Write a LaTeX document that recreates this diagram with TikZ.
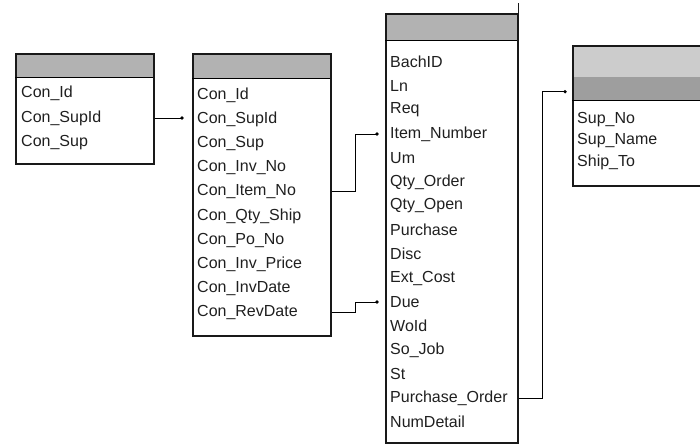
\documentclass[tikz,border=0pt]{standalone}
\usepackage{fontspec}
\setmainfont{Liberation Sans}
\usetikzlibrary{calc}
\definecolor{hdrgray}{gray}{0.70}
\definecolor{hdrlight}{gray}{0.80}
\definecolor{hdrdark}{gray}{0.62}
\definecolor{txt}{gray}{0.12}
\tikzset{
  tbl/.style={draw=black!90, line width=1.6pt, inner sep=0pt, anchor=north west},
  hdr/.style={fill=hdrgray, draw=none, inner sep=0pt, anchor=north west},
  rowtxt/.style={anchor=west, inner sep=0pt, font=\fontsize{16}{16}\selectfont, text=txt},
  conn/.style={draw=black, line width=0.9pt},
  enddot/.style={circle, fill=black, inner sep=0pt, minimum size=3.6pt}
}
\begin{document}
\begin{tikzpicture}[x=1pt,y=-1pt]
\useasboundingbox (0,0) rectangle (700,447);
\begin{scope}
\clip (0,0) rectangle (700,447);
% ---------- table 1 ----------
\node[hdr, minimum width=138pt, minimum height=24pt] (t1h) at (15,53) {};
\node[tbl, minimum width=138pt, minimum height=110pt] (t1) at (15,53) {};
\draw[line width=1.8pt] (t1h.south west) -- (t1h.south east);
\node[rowtxt] (t1r1) at (21,93) {Con\_Id};
\node[rowtxt] (t1r2) at (21,118) {Con\_SupId};
\node[rowtxt] (t1r3) at (21,143) {Con\_Sup};
% ---------- table 2 ----------
\node[hdr, minimum width=138pt, minimum height=25pt] (t2h) at (192,53) {};
\node[tbl, minimum width=138pt, minimum height=282pt] (t2) at (192,53) {};
\draw[line width=1.8pt] (t2h.south west) -- (t2h.south east);
\foreach \lab [count=\i] in {Con\_Id,Con\_SupId,Con\_Sup,Con\_Inv\_No,Con\_Item\_No,Con\_Qty\_Ship,Con\_Po\_No,Con\_Inv\_Price,Con\_InvDate,Con\_RevDate}{
  \node[rowtxt] (t2r\i) at (197,{95+24.2*(\i-1)}) {\lab};
}
% ---------- table 3 ----------
\node[hdr, minimum width=132pt, minimum height=27pt] (t3h) at (385,13) {};
\node[tbl, minimum width=132pt, minimum height=429pt] (t3) at (385,13) {};
\draw[line width=1.8pt] (t3h.south west) -- (t3h.south east);
\draw[line width=1.6pt, black!90] (t3.north east) -- ++(0,-10);
\foreach \lab [count=\i] in {BachID,Ln,Req,Item\_Number,Um,Qty\_Order,Qty\_Open,Purchase,Disc,Ext\_Cost,Due,WoId,So\_Job,St,Purchase\_Order,NumDetail}{
  \node[rowtxt] (t3r\i) at (390,{62+24*(\i-1)}) {\lab};
}
% ---------- table 4 ----------
\node[hdr, fill=hdrlight, minimum width=140pt, minimum height=32pt] (t4ha) at (572,45) {};
\node[hdr, fill=hdrdark, minimum width=140pt, minimum height=23pt] (t4h) at (572,77) {};
\node[tbl, minimum width=140pt, minimum height=140pt] (t4) at (572,45) {};
\draw[line width=1.8pt] (t4h.south west) -- (t4h.south east);
\node[rowtxt] (t4r1) at (577,120) {Sup\_No};
\node[rowtxt] (t4r2) at (577,141) {Sup\_Name};
\node[rowtxt] (t4r3) at (577,162) {Ship\_To};
\end{scope}
% ---------- connectors ----------
\coordinate (c1) at ([xshift=-10pt]t2.west |- t1r2);
\draw[conn] (t1.east |- t1r2) -- (c1);
\node[enddot] at (c1) {};
\coordinate (c2) at ([xshift=-8pt]t3.west |- t3r4);
\draw[conn] (t2.east |- t2r5) -- ([xshift=-30pt]t3.west |- t2r5) |- (c2);
\node[enddot] at (c2) {};
\coordinate (c3) at ([xshift=-8pt]t3.west |- t3r11);
\draw[conn] (t2.east |- t2r10) -- ([xshift=-30pt]t3.west |- t2r10) |- (c3);
\node[enddot] at (c3) {};
\coordinate (c4) at ([xshift=-7pt,yshift=-3pt]t4h.west);
\draw[conn] (t3.east |- t3r15) -- ([xshift=-30pt]t4.west |- t3r15) |- (c4);
\node[enddot] at (c4) {};
\end{tikzpicture}
\end{document}
